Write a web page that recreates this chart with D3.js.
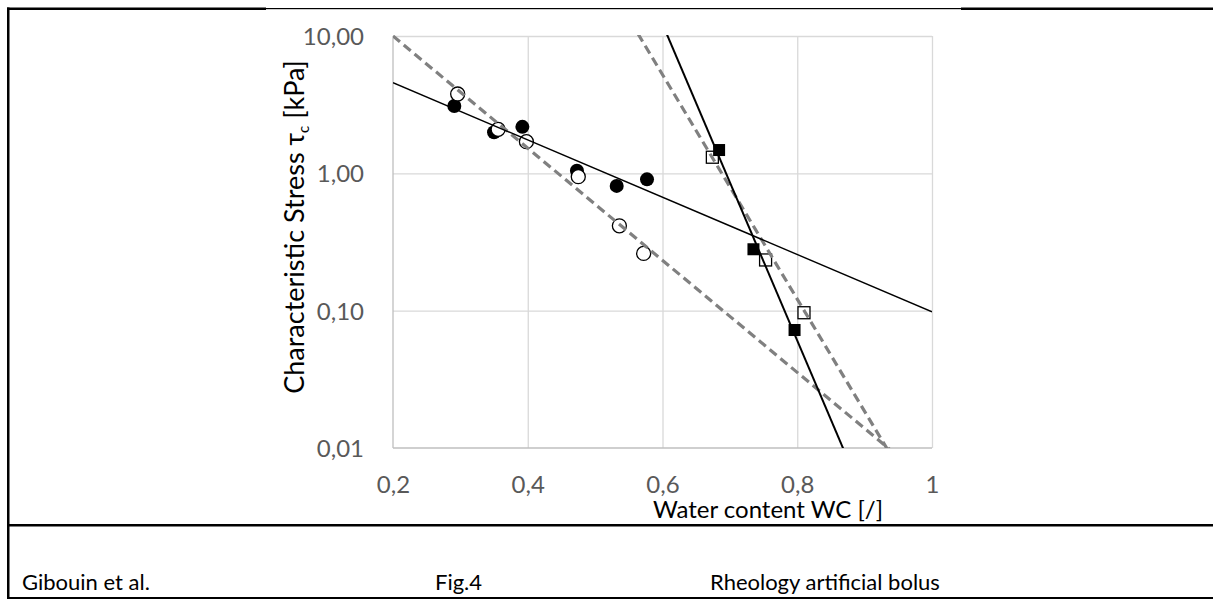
<!DOCTYPE html>
<html>
<head>
<meta charset="utf-8">
<script src="https://cdn.jsdelivr.net/npm/d3@7"></script>
<style>
  html, body { margin: 0; padding: 0; background: #fff; overflow: hidden; }
  svg { display: block; }
</style>
</head>
<body>
<svg id="fig" width="1213" height="599"></svg>
<script>
// Water content (x) and characteristic stress in kPa (y) for each sample set
const filledCircleWC  = [0.291, 0.350, 0.392, 0.473, 0.532, 0.577];
const filledCircleTau = [3.09, 1.99, 2.18, 1.045, 0.81, 0.904];
const openCircleWC    = [0.296, 0.356, 0.398, 0.475, 0.536, 0.572];
const openCircleTau   = [3.78, 2.09, 1.70, 0.945, 0.415, 0.261];
const filledSquareWC  = [0.684, 0.735, 0.796];
const filledSquareTau = [1.478, 0.28, 0.0723];
const openSquareWC    = [0.674, 0.753, 0.810];
const openSquareTau   = [1.31, 0.234, 0.0966];

// Exponential fits tau = a * exp(b * WC)
const fitCircleSolid  = [11.93, -4.80];
const fitCircleDashed = [65.5, -9.40];
const fitSquareSolid  = [1.007e8, -26.54];
const fitSquareDashed = [4.197e5, -18.82];

// Axis ticks and their labels
const xTicks = [0.2, 0.4, 0.6, 0.8, 1.0];
const xTickLabels = ["0,2", "0,4", "0,6", "0,8", "1"];
const yTicks = [0.01, 0.1, 1, 10];
const yTickLabels = ["0,01", "0,10", "1,00", "10,00"];

const svg = d3.select("#fig");
const FONT = "Lato, 'Open Sans', sans-serif";

// Plot area
const plotLeft = 393, plotRight = 932, plotTop = 36, plotBottom = 448;
const x = d3.scaleLinear().domain([0.2, 1.0]).range([plotLeft, plotRight]);
const y = d3.scaleLog().domain([0.01, 10]).range([plotBottom, plotTop]);

// Gridlines
const grid = svg.append("g");
grid.append("g")
  .attr("transform", `translate(0,${plotBottom})`)
  .call(d3.axisBottom(x).tickValues(xTicks.slice(1)).tickSize(-(plotBottom - plotTop)).tickFormat(""))
  .call(g => g.select(".domain").remove())
  .call(g => g.selectAll("line").attr("stroke", "#d9d9d9").attr("stroke-width", 1.3));
grid.append("g")
  .attr("transform", `translate(${plotLeft},0)`)
  .call(d3.axisLeft(y).tickValues(yTicks.slice(1)).tickSize(-(plotRight - plotLeft)).tickFormat(""))
  .call(g => g.select(".domain").remove())
  .call(g => g.selectAll("line").attr("stroke", "#d9d9d9").attr("stroke-width", 1.3));

// Axis lines
svg.append("line").attr("x1", plotLeft).attr("x2", plotLeft).attr("y1", plotTop).attr("y2", plotBottom)
  .attr("stroke", "#bfbfbf").attr("stroke-width", 1.3);
svg.append("line").attr("x1", plotLeft).attr("x2", plotRight).attr("y1", plotBottom).attr("y2", plotBottom)
  .attr("stroke", "#bfbfbf").attr("stroke-width", 1.3);

// Tick labels
const xAxis = svg.append("g")
  .attr("transform", `translate(0,${plotBottom})`)
  .call(d3.axisBottom(x).tickValues(xTicks).tickSize(0).tickPadding(0)
    .tickFormat((d, i) => xTickLabels[i]));
xAxis.select(".domain").remove();
xAxis.selectAll("text").attr("font-family", FONT).attr("font-size", 24)
  .attr("fill", "#595959").attr("dy", null).attr("y", 45);

const yAxis = svg.append("g")
  .attr("transform", `translate(${plotLeft},0)`)
  .call(d3.axisLeft(y).tickValues(yTicks).tickSize(0).tickPadding(0)
    .tickFormat((d, i) => yTickLabels[i]));
yAxis.select(".domain").remove();
yAxis.selectAll("text").attr("font-family", FONT).attr("font-size", 24)
  .attr("fill", "#595959").attr("x", -29).attr("dy", "0.36em");

// Axis titles
const yTitle = svg.append("text")
  .attr("transform", "translate(304,227) rotate(-90)")
  .attr("text-anchor", "middle")
  .attr("font-family", FONT).attr("font-size", 27).attr("fill", "#000");
yTitle.append("tspan").text("Characteristic Stress τ");
yTitle.append("tspan").attr("font-size", 15).attr("dy", 5).text("c");
yTitle.append("tspan").attr("dy", -5).text(" [kPa]");

svg.append("text")
  .attr("x", 768).attr("y", 518)
  .attr("text-anchor", "middle")
  .attr("font-family", FONT).attr("font-size", 24).attr("fill", "#000")
  .text("Water content WC [/]");

// Markers
const plot = svg.append("g");
const pts = (xs, ys) => xs.map((v, i) => ({ wc: v, tau: ys[i] }));

plot.selectAll(".fc").data(pts(filledCircleWC, filledCircleTau)).join("circle")
  .attr("cx", d => x(d.wc)).attr("cy", d => y(d.tau)).attr("r", 7)
  .attr("fill", "#000");
plot.selectAll(".oc").data(pts(openCircleWC, openCircleTau)).join("circle")
  .attr("cx", d => x(d.wc)).attr("cy", d => y(d.tau)).attr("r", 7)
  .attr("fill", "#fff").attr("stroke", "#000").attr("stroke-width", 1.3);
const sq = 12;
plot.selectAll(".os").data(pts(openSquareWC, openSquareTau)).join("rect")
  .attr("x", d => x(d.wc) - sq / 2).attr("y", d => y(d.tau) - sq / 2)
  .attr("width", sq).attr("height", sq)
  .attr("fill", "#fff").attr("stroke", "#000").attr("stroke-width", 1.3);
plot.selectAll(".fs").data(pts(filledSquareWC, filledSquareTau)).join("rect")
  .attr("x", d => x(d.wc) - sq / 2).attr("y", d => y(d.tau) - sq / 2)
  .attr("width", sq).attr("height", sq)
  .attr("fill", "#000");

// Trend lines, clipped to the plot area
svg.append("clipPath").attr("id", "plotClip")
  .append("rect").attr("x", plotLeft).attr("y", plotTop - 1)
  .attr("width", plotRight - plotLeft).attr("height", plotBottom - plotTop + 1);
const trends = svg.append("g").attr("clip-path", "url(#plotClip)");
const fitLine = ([a, b]) => d3.line()
  .x(v => x(v))
  .y(v => y(a * Math.exp(b * v)))(x.domain());

trends.append("path").attr("d", fitLine(fitCircleDashed))
  .attr("fill", "none").attr("stroke", "#808080").attr("stroke-width", 3.2)
  .attr("stroke-dasharray", "9,5");
trends.append("path").attr("d", fitLine(fitSquareDashed))
  .attr("fill", "none").attr("stroke", "#808080").attr("stroke-width", 3.2)
  .attr("stroke-dasharray", "9,5");
trends.append("path").attr("d", fitLine(fitCircleSolid))
  .attr("fill", "none").attr("stroke", "#000").attr("stroke-width", 1.4);
trends.append("path").attr("d", fitLine(fitSquareSolid))
  .attr("fill", "none").attr("stroke", "#000").attr("stroke-width", 2);

// Footer line
const footer = svg.append("g").attr("font-family", FONT).attr("font-size", 22).attr("fill", "#000");
footer.append("text").attr("x", 22).attr("y", 590).text("Gibouin et al.");
footer.append("text").attr("x", 435).attr("y", 590).text("Fig.4");
footer.append("text").attr("x", 710).attr("y", 590).text("Rheology artificial bolus");

// Table rules around the figure
const bar = (bx, by, bw, bh) => svg.append("rect")
  .attr("x", bx).attr("y", by).attr("width", bw).attr("height", bh).attr("fill", "#000");
bar(7, 7.5, 2.5, 591.5);
bar(7, 7.5, 259, 2.5);
bar(266, 8, 695, 1.2);
bar(961, 7.5, 252, 2.5);
bar(7, 524, 1206, 2.5);
bar(7, 597, 1206, 2);
</script>
</body>
</html>
